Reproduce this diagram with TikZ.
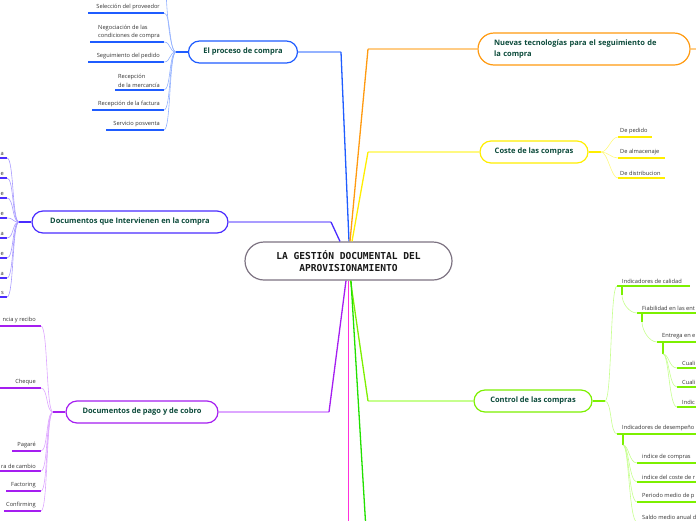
\documentclass[tikz,border=0pt]{standalone}
\usepackage{fontspec}
\setmainfont{Open Sans}
\newfontfamily\titlefont{DejaVu Sans Mono}
\usetikzlibrary{positioning,calc}

\definecolor{topictext}{HTML}{0B4A3A}
\definecolor{leaftext}{HTML}{333333}
\definecolor{centerline}{HTML}{7D7382}
\definecolor{blueD}{HTML}{1F5CFF}
\definecolor{blueL}{HTML}{94B2FF}
\definecolor{violetD}{HTML}{4A2CFF}
\definecolor{violetL}{HTML}{A99CFF}
\definecolor{purpleD}{HTML}{A51EF0}
\definecolor{purpleL}{HTML}{DDA6FF}
\definecolor{orangeD}{HTML}{FF9A10}
\definecolor{orangeL}{HTML}{FFCC85}
\definecolor{yellowD}{HTML}{FFEE00}
\definecolor{yellowL}{HTML}{FFF980}
\definecolor{limeD}{HTML}{7CF000}
\definecolor{limeL}{HTML}{C6FF8E}
\definecolor{magentaD}{HTML}{FF30DC}
\definecolor{greenD}{HTML}{22E000}

\tikzset{
  central/.style={draw=centerline, line width=1.2pt, fill=white, rounded corners=19pt,
    minimum width=207pt, minimum height=38pt, align=center, text=black!90,
    font=\titlefont\bfseries\fontsize{9.6}{12}\selectfont},
  topic/.style={draw, line width=1.2pt, fill=white, rounded corners=11pt, minimum height=22pt,
    align=center, text=topictext, font=\bfseries\fontsize{7.5}{10.5}\selectfont},
  leaf/.style={text=leaftext, font=\fontsize{5.7}{8.3}\selectfont, inner sep=1pt, align=left},
  trunk/.style={line width=1.3pt},
  twig/.style={line width=0.6pt},
  uline/.style={line width=1.3pt},
  knot/.style={line width=2pt},
}

\begin{document}
\begin{tikzpicture}[x=1pt, y=-1pt]
    \useasboundingbox (0,0) rectangle (696,520);
    \clip (0,0) rectangle (696,520);

    % Central topic
    \node[central] (ctr) at (348.5,261) {LA GESTIÓN DOCUMENTAL DEL\\APROVISIONAMIENTO};

    % Main topics
    \node[topic, draw=blueD, minimum width=109pt] (proc) at (243,52) {El proceso de compra};
    \node[topic, draw=violetD, minimum width=196pt] (docs) at (130,222) {Documentos que Intervienen en la compra};
    \node[topic, draw=purpleD, minimum width=152pt] (pago) at (142,412) {Documentos de pago y de cobro};
    \node[topic, draw=orangeD, minimum height=32pt, rounded corners=16pt, text width=180pt, align=left,
      inner xsep=16pt] (nuevas) at (584,49) {Nuevas tecnologías para el seguimiento de\\la compra};
    \node[topic, draw=yellowD, minimum width=108pt] (coste) at (534,152) {Coste de las compras};
    \node[topic, draw=limeD, minimum width=118pt] (control) at (533,401) {Control de las compras};

    % Trunks to the central topic
    \coordinate (procB) at (341,52);
    \coordinate (docsB) at (331,222);
    \coordinate (pagoB) at (329,412);
    \coordinate (nuevasB) at (368,49);
    \coordinate (costeB) at (368,152);
    \coordinate (controlB) at (368,401);
    \draw[trunk, blueL] (proc.east) -- (procB);
    \draw[trunk, blueD] (procB) -- ($(ctr.north)+(0.5,0)$);
    \draw[trunk, violetL] (docs.east) -- (docsB);
    \draw[trunk, violetD] (docsB) -- ($(ctr.north)+(-8.5,0)$);
    \draw[trunk, purpleL] (pago.east) -- (pagoB);
    \draw[trunk, purpleD] (pagoB) -- ($(ctr.south)+(-2.5,0)$);
    \draw[trunk, orangeL] (nuevas.west) -- (nuevasB);
    \draw[trunk, orangeD] (nuevasB) -- ($(ctr.north)+(1.5,0)$);
    \draw[trunk, yellowL] (coste.west) -- (costeB);
    \draw[trunk, yellowD] (costeB) -- ($(ctr.north)+(3.5,0)$);
    \draw[trunk, limeL] (control.west) -- (controlB);
    \draw[trunk, limeD] (controlB) -- ($(ctr.south)+(2,0)$);
    \draw[trunk, greenD] ($(ctr.south)+(2.5,0)$) -- (366,530);
    \draw[trunk, magentaD] ($(ctr.south)+(0,0)$) -- (348.5,530);

    % El proceso de compra
    \coordinate (procK) at (176,52);
    \draw[twig, blueL] (procK) .. controls +(-7,0) and +(0,10) .. (166,-12);
    \foreach \n/\y/\l/\t in {p1/13/88/{Selección del proveedor},
        p2/42/90/{Negociación de las\\condiciones de compra},
        p3/62/88/{Seguimiento del pedido},
        p4/90/115/{Recepción\\de la mercancía},
        p5/110/92/{Recepción de la factura},
        p6/130/106/{Servicio posventa}} {
      \node[leaf, anchor=south east] (\n) at (161,\y-1.5) {\t};
      \draw[uline, blueD] (\l,\y) -- (164,\y);
      \draw[twig, blueL] (164,\y) .. controls +(7,0) and +(-7,0) .. (procK);
    }
    \draw[knot, blueD] (procK) -- (proc.west);

    % Documentos que intervienen
    \coordinate (docsK) at (19,222);
    \foreach \n/\y/\t in {d1/158/a, d2/178/e, d3/198/e, d4/218/e,
        d5/238/a, d6/258/e, d7/278/a, d8/297/s} {
      \node[leaf, anchor=south east] (\n) at (5,\y-1.5) {\t};
      \draw[uline, violetD] (-5,\y) -- (7,\y);
      \draw[twig, violetL] (7,\y) .. controls +(7,0) and +(-7,0) .. (docsK);
    }
    \draw[knot, violetD] (docsK) -- (docs.west);

    % Documentos de pago y de cobro
    \coordinate (pagoK) at (53,412);
    \foreach \n/\y/\l/\t in {c1/326/-5/{ncia y recibo}, c2/388/-5/Cheque,
        c3/451/12/Pagaré, c4/471/-5/{ra de cambio},
        c5/491/6/Factoring, c6/511/4/Confirming} {
      \node[leaf, anchor=south east] (\n) at (37,\y-1.5) {\t};
      \draw[uline, purpleD] (\l,\y) -- (41,\y);
      \draw[twig, purpleL] (41,\y) .. controls +(7,0) and +(-7,0) .. (pagoK);
    }
    \draw[knot, purpleD] (pagoK) -- (pago.west);

    % Nuevas tecnologias
    \draw[trunk, orangeL] (nuevas.east) -- (705,49);

    % Coste de las compras
    \coordinate (costeK) at (601,152);
    \draw[knot, yellowD] (coste.east) -- (costeK);
    \foreach \n/\y/\r/\t in {k1/137/652/{De pedido}, k2/158/665/{De almacenaje},
        k3/178/665/{De distribucion}} {
      \node[leaf, anchor=south west] (\n) at (619,\y-1.5) {\t};
      \draw[uline, yellowD] (618,\y) -- (\r,\y);
      \draw[twig, yellowL] (costeK) .. controls +(7,0) and +(-7,0) .. (618,\y);
    }

    % Control de las compras
    \coordinate (controlK) at (605,401);
    \draw[knot, limeD] (control.east) -- (controlK);
    \node[leaf, anchor=south west] (q1) at (621,284.5) {Indicadores de calidad};
    \draw[uline, limeD] (617,286) -- (690,286);
    \draw[twig, limeL] (controlK) .. controls +(7,0) and +(-7,0) .. (617,286);
    \node[leaf, anchor=south west] (q2) at (641,311.5) {Fiabilidad en las ent};
    \draw[uline, limeD] (637,313) -- (705,313);
    \draw[knot, limeD] (622,286) -- (622,295);
    \draw[twig, limeL] (622,295) .. controls +(0,8) and +(-8,0) .. (637,313);
    \node[leaf, anchor=south west] (q3) at (661,340.5) {Entrega en e};
    \draw[uline, limeD] (657,342) -- (705,342);
    \draw[knot, limeD] (642,313) -- (642,322);
    \draw[twig, limeL] (642,322) .. controls +(0,8) and +(-8,0) .. (657,342);
    \draw[knot, limeD] (663,342) -- (663,354);
    \foreach \n/\y/\t in {q4/368/Cuali, q5/387/Cuali, q6/407/Indic} {
      \node[leaf, anchor=south west] (\n) at (681,\y-1.5) {\t};
      \draw[uline, limeD] (677,\y) -- (705,\y);
      \draw[twig, limeL] (663,354) .. controls +(6,0) and +(-8,0) .. (677,\y);
    }
    \node[leaf, anchor=south west] (q7) at (621,432.5) {Indicadores de desempeño};
    \draw[uline, limeD] (617,434) -- (705,434);
    \draw[twig, limeL] (controlK) .. controls +(7,0) and +(-7,0) .. (617,434);
    \draw[knot, limeD] (623,434) -- (623,445);
    \foreach \n/\y/\t in {q8/463/{indice de compras}, q9/482/{indice del coste de r},
        q10/502/{Periodo medio de p}, q11/522/{Saldo medio anual d}} {
      \node[leaf, anchor=south west] (\n) at (641,\y-1.5) {\t};
      \draw[uline, limeD] (637,\y) -- (705,\y);
      \draw[twig, limeL] (623,445) .. controls +(6,0) and +(-8,0) .. (637,\y);
    }
\end{tikzpicture}
\end{document}
